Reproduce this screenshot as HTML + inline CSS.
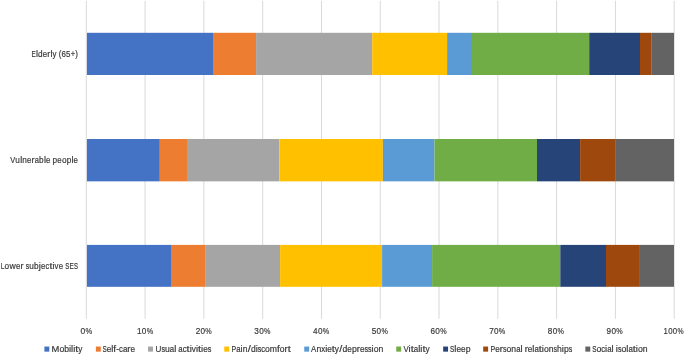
<!DOCTYPE html><html><head><meta charset="utf-8"><style>html,body{margin:0;padding:0;background:#fff;width:685px;height:355px;overflow:hidden}svg{display:block;will-change:transform}text{font-family:"Liberation Sans",sans-serif;font-size:9.5px;fill:#383838;stroke:#383838;stroke-width:0.2px}</style></head><body>
<svg width="685" height="355" viewBox="0 0 685 355">
<rect width="685" height="355" fill="#fff"/>
<rect x="85.80" y="0.80" width="1" height="318.00" fill="#D9D9D9"/>
<rect x="144.59" y="0.80" width="1" height="318.00" fill="#D9D9D9"/>
<rect x="203.38" y="0.80" width="1" height="318.00" fill="#D9D9D9"/>
<rect x="262.17" y="0.80" width="1" height="318.00" fill="#D9D9D9"/>
<rect x="320.96" y="0.80" width="1" height="318.00" fill="#D9D9D9"/>
<rect x="379.75" y="0.80" width="1" height="318.00" fill="#D9D9D9"/>
<rect x="438.54" y="0.80" width="1" height="318.00" fill="#D9D9D9"/>
<rect x="497.33" y="0.80" width="1" height="318.00" fill="#D9D9D9"/>
<rect x="556.12" y="0.80" width="1" height="318.00" fill="#D9D9D9"/>
<rect x="614.91" y="0.80" width="1" height="318.00" fill="#D9D9D9"/>
<rect x="673.70" y="0.80" width="1" height="318.00" fill="#D9D9D9"/>
<rect x="86.95" y="32.80" width="126.05" height="42.20" fill="#4472C4"/>
<rect x="213.00" y="32.80" width="43.10" height="42.20" fill="#ED7D31"/>
<rect x="256.10" y="32.80" width="116.10" height="42.20" fill="#A5A5A5"/>
<rect x="372.20" y="32.80" width="74.90" height="42.20" fill="#FFC000"/>
<rect x="447.10" y="32.80" width="23.90" height="42.20" fill="#5B9BD5"/>
<rect x="471.00" y="32.80" width="118.20" height="42.20" fill="#70AD47"/>
<rect x="589.20" y="32.80" width="50.80" height="42.20" fill="#264478"/>
<rect x="640.00" y="32.80" width="11.20" height="42.20" fill="#9E480E"/>
<rect x="651.20" y="32.80" width="22.80" height="42.20" fill="#636363"/>
<rect x="86.95" y="139.00" width="72.85" height="42.35" fill="#4472C4"/>
<rect x="159.80" y="139.00" width="27.20" height="42.35" fill="#ED7D31"/>
<rect x="187.00" y="139.00" width="92.30" height="42.35" fill="#A5A5A5"/>
<rect x="279.30" y="139.00" width="103.60" height="42.35" fill="#FFC000"/>
<rect x="382.90" y="139.00" width="51.60" height="42.35" fill="#5B9BD5"/>
<rect x="434.50" y="139.00" width="102.50" height="42.35" fill="#70AD47"/>
<rect x="537.00" y="139.00" width="43.10" height="42.35" fill="#264478"/>
<rect x="580.10" y="139.00" width="35.70" height="42.35" fill="#9E480E"/>
<rect x="615.80" y="139.00" width="58.20" height="42.35" fill="#636363"/>
<rect x="86.95" y="244.90" width="84.05" height="41.90" fill="#4472C4"/>
<rect x="171.00" y="244.90" width="34.10" height="41.90" fill="#ED7D31"/>
<rect x="205.10" y="244.90" width="75.00" height="41.90" fill="#A5A5A5"/>
<rect x="280.10" y="244.90" width="102.00" height="41.90" fill="#FFC000"/>
<rect x="382.10" y="244.90" width="50.00" height="41.90" fill="#5B9BD5"/>
<rect x="432.10" y="244.90" width="128.20" height="41.90" fill="#70AD47"/>
<rect x="560.30" y="244.90" width="45.70" height="41.90" fill="#264478"/>
<rect x="606.00" y="244.90" width="33.90" height="41.90" fill="#9E480E"/>
<rect x="639.90" y="244.90" width="34.10" height="41.90" fill="#636363"/>
<text transform="translate(31.45 56.80) scale(0.672 1)" font-size="9.90">E</text><text transform="translate(35.89 56.80) scale(0.948 1)" font-size="9.90">l</text><text transform="translate(37.97 56.80) scale(0.867 1)" font-size="9.90">d</text><text transform="translate(42.74 56.80) scale(0.821 1)" font-size="9.90">e</text><text transform="translate(47.26 56.80) scale(0.961 1)" font-size="9.90">r</text><text transform="translate(50.43 56.80) scale(0.948 1)" font-size="9.90">l</text><text transform="translate(52.51 56.80) scale(0.831 1)" font-size="9.90">y</text><text transform="translate(58.68 56.80) scale(0.835 1)" font-size="9.90">(</text><text transform="translate(61.43 56.80) scale(0.836 1)" font-size="9.90">6</text><text transform="translate(66.04 56.80) scale(0.836 1)" font-size="9.90">5</text><text transform="translate(70.64 56.80) scale(0.796 1)" font-size="9.90">+</text><text transform="translate(75.25 56.80) scale(0.835 1)" font-size="9.90">)</text>
<text transform="translate(10.20 163.00) scale(0.783 1)" font-size="9.90">V</text><text transform="translate(15.37 163.00) scale(0.869 1)" font-size="9.90">u</text><text transform="translate(20.15 163.00) scale(0.950 1)" font-size="9.90">l</text><text transform="translate(22.24 163.00) scale(0.869 1)" font-size="9.90">n</text><text transform="translate(27.03 163.00) scale(0.823 1)" font-size="9.90">e</text><text transform="translate(31.56 163.00) scale(0.963 1)" font-size="9.90">r</text><text transform="translate(34.74 163.00) scale(0.792 1)" font-size="9.90">a</text><text transform="translate(39.10 163.00) scale(0.869 1)" font-size="9.90">b</text><text transform="translate(43.89 163.00) scale(0.950 1)" font-size="9.90">l</text><text transform="translate(45.98 163.00) scale(0.823 1)" font-size="9.90">e</text><text transform="translate(52.57 163.00) scale(0.869 1)" font-size="9.90">p</text><text transform="translate(57.36 163.00) scale(0.823 1)" font-size="9.90">e</text><text transform="translate(61.89 163.00) scale(0.872 1)" font-size="9.90">o</text><text transform="translate(66.69 163.00) scale(0.869 1)" font-size="9.90">p</text><text transform="translate(71.48 163.00) scale(0.950 1)" font-size="9.90">l</text><text transform="translate(73.57 163.00) scale(0.823 1)" font-size="9.90">e</text>
<text transform="translate(0.75 268.80) scale(0.696 1)" font-size="9.90">L</text><text transform="translate(4.58 268.80) scale(0.873 1)" font-size="9.90">o</text><text transform="translate(9.39 268.80) scale(0.912 1)" font-size="9.90">w</text><text transform="translate(15.91 268.80) scale(0.824 1)" font-size="9.90">e</text><text transform="translate(20.45 268.80) scale(0.964 1)" font-size="9.90">r</text><text transform="translate(25.69 268.80) scale(0.720 1)" font-size="9.90">s</text><text transform="translate(29.25 268.80) scale(0.870 1)" font-size="9.90">u</text><text transform="translate(34.04 268.80) scale(0.870 1)" font-size="9.90">b</text><text transform="translate(38.83 268.80) scale(0.992 1)" font-size="9.90">j</text><text transform="translate(41.01 268.80) scale(0.824 1)" font-size="9.90">e</text><text transform="translate(45.55 268.80) scale(0.779 1)" font-size="9.90">c</text><text transform="translate(49.41 268.80) scale(1.110 1)" font-size="9.90">t</text><text transform="translate(52.46 268.80) scale(0.951 1)" font-size="9.90">i</text><text transform="translate(54.55 268.80) scale(0.832 1)" font-size="9.90">v</text><text transform="translate(58.67 268.80) scale(0.824 1)" font-size="9.90">e</text><text transform="translate(65.27 268.80) scale(0.634 1)" font-size="9.90">S</text><text transform="translate(69.46 268.80) scale(0.674 1)" font-size="9.90">E</text><text transform="translate(73.91 268.80) scale(0.634 1)" font-size="9.90">S</text>
<text transform="translate(80.45 333.90) scale(0.894 1)" font-size="10.10">0</text><text transform="translate(85.47 333.90) scale(0.788 1)" font-size="10.10">%</text>
<text transform="translate(136.95 333.90) scale(0.861 1)" font-size="10.10">1</text><text transform="translate(141.79 333.90) scale(0.861 1)" font-size="10.10">0</text><text transform="translate(146.63 333.90) scale(0.760 1)" font-size="10.10">%</text>
<text transform="translate(195.65 333.90) scale(0.861 1)" font-size="10.10">2</text><text transform="translate(200.49 333.90) scale(0.861 1)" font-size="10.10">0</text><text transform="translate(205.33 333.90) scale(0.760 1)" font-size="10.10">%</text>
<text transform="translate(254.35 333.90) scale(0.861 1)" font-size="10.10">3</text><text transform="translate(259.19 333.90) scale(0.861 1)" font-size="10.10">0</text><text transform="translate(264.03 333.90) scale(0.760 1)" font-size="10.10">%</text>
<text transform="translate(313.05 333.90) scale(0.861 1)" font-size="10.10">4</text><text transform="translate(317.89 333.90) scale(0.861 1)" font-size="10.10">0</text><text transform="translate(322.73 333.90) scale(0.760 1)" font-size="10.10">%</text>
<text transform="translate(371.75 333.90) scale(0.861 1)" font-size="10.10">5</text><text transform="translate(376.59 333.90) scale(0.861 1)" font-size="10.10">0</text><text transform="translate(381.43 333.90) scale(0.760 1)" font-size="10.10">%</text>
<text transform="translate(430.45 333.90) scale(0.861 1)" font-size="10.10">6</text><text transform="translate(435.29 333.90) scale(0.861 1)" font-size="10.10">0</text><text transform="translate(440.13 333.90) scale(0.760 1)" font-size="10.10">%</text>
<text transform="translate(489.15 333.90) scale(0.861 1)" font-size="10.10">7</text><text transform="translate(493.99 333.90) scale(0.861 1)" font-size="10.10">0</text><text transform="translate(498.83 333.90) scale(0.760 1)" font-size="10.10">%</text>
<text transform="translate(547.85 333.90) scale(0.861 1)" font-size="10.10">8</text><text transform="translate(552.69 333.90) scale(0.861 1)" font-size="10.10">0</text><text transform="translate(557.53 333.90) scale(0.760 1)" font-size="10.10">%</text>
<text transform="translate(606.55 333.90) scale(0.861 1)" font-size="10.10">9</text><text transform="translate(611.39 333.90) scale(0.861 1)" font-size="10.10">0</text><text transform="translate(616.23 333.90) scale(0.760 1)" font-size="10.10">%</text>
<text transform="translate(663.60 333.90) scale(0.823 1)" font-size="10.10">1</text><text transform="translate(668.23 333.90) scale(0.823 1)" font-size="10.10">0</text><text transform="translate(672.85 333.90) scale(0.823 1)" font-size="10.10">0</text><text transform="translate(677.48 333.90) scale(0.726 1)" font-size="10.10">%</text>
<rect x="44.40" y="346.55" width="4.90" height="5.10" fill="#4472C4"/>
<text transform="translate(51.60 351.80) scale(0.987 1)">M</text><text transform="translate(59.41 351.80) scale(0.911 1)">o</text><text transform="translate(64.22 351.80) scale(0.908 1)">b</text><text transform="translate(69.02 351.80) scale(0.993 1)">i</text><text transform="translate(71.12 351.80) scale(0.993 1)">l</text><text transform="translate(73.21 351.80) scale(0.993 1)">i</text><text transform="translate(75.32 351.80) scale(1.150 1)">t</text><text transform="translate(78.37 351.80) scale(0.870 1)">y</text>
<rect x="95.90" y="346.55" width="4.90" height="5.10" fill="#ED7D31"/>
<text transform="translate(102.40 351.80) scale(0.669 1)">S</text><text transform="translate(106.64 351.80) scale(0.868 1)">e</text><text transform="translate(111.23 351.80) scale(1.003 1)">l</text><text transform="translate(113.34 351.80) scale(1.066 1)">f</text><text transform="translate(116.16 351.80) scale(0.892 1)">-</text><text transform="translate(118.98 351.80) scale(0.821 1)">c</text><text transform="translate(122.88 351.80) scale(0.836 1)">a</text><text transform="translate(127.30 351.80) scale(1.016 1)">r</text><text transform="translate(130.51 351.80) scale(0.868 1)">e</text>
<rect x="148.05" y="346.55" width="4.90" height="5.10" fill="#A5A5A5"/>
<text transform="translate(155.50 351.80) scale(0.856 1)">U</text><text transform="translate(161.38 351.80) scale(0.754 1)">s</text><text transform="translate(164.96 351.80) scale(0.911 1)">u</text><text transform="translate(169.77 351.80) scale(0.830 1)">a</text><text transform="translate(174.16 351.80) scale(0.996 1)">l</text><text transform="translate(178.33 351.80) scale(0.830 1)">a</text><text transform="translate(182.71 351.80) scale(0.815 1)">c</text><text transform="translate(186.60 351.80) scale(1.150 1)">t</text><text transform="translate(189.65 351.80) scale(0.996 1)">i</text><text transform="translate(191.76 351.80) scale(0.871 1)">v</text><text transform="translate(195.89 351.80) scale(0.996 1)">i</text><text transform="translate(198.01 351.80) scale(1.150 1)">t</text><text transform="translate(201.06 351.80) scale(0.996 1)">i</text><text transform="translate(203.16 351.80) scale(0.862 1)">e</text><text transform="translate(207.72 351.80) scale(0.754 1)">s</text>
<rect x="224.25" y="346.55" width="4.90" height="5.10" fill="#FFC000"/>
<text transform="translate(231.60 351.80) scale(0.736 1)">P</text><text transform="translate(236.26 351.80) scale(0.818 1)">a</text><text transform="translate(240.59 351.80) scale(0.981 1)">i</text><text transform="translate(242.66 351.80) scale(0.898 1)">n</text><text transform="translate(247.63 351.80) scale(1.150 1)">/</text><text transform="translate(250.89 351.80) scale(0.898 1)">d</text><text transform="translate(255.63 351.80) scale(0.981 1)">i</text><text transform="translate(257.70 351.80) scale(0.743 1)">s</text><text transform="translate(261.23 351.80) scale(0.803 1)">c</text><text transform="translate(265.05 351.80) scale(0.901 1)">o</text><text transform="translate(269.81 351.80) scale(0.911 1)">m</text><text transform="translate(277.02 351.80) scale(1.044 1)">f</text><text transform="translate(279.77 351.80) scale(0.901 1)">o</text><text transform="translate(284.53 351.80) scale(0.995 1)">r</text><text transform="translate(287.68 351.80) scale(1.145 1)">t</text>
<rect x="304.25" y="346.55" width="4.90" height="5.10" fill="#5B9BD5"/>
<text transform="translate(311.10 351.80) scale(0.835 1)">A</text><text transform="translate(316.39 351.80) scale(0.909 1)">n</text><text transform="translate(321.19 351.80) scale(0.834 1)">x</text><text transform="translate(325.15 351.80) scale(0.994 1)">i</text><text transform="translate(327.25 351.80) scale(0.861 1)">e</text><text transform="translate(331.81 351.80) scale(1.150 1)">t</text><text transform="translate(334.86 351.80) scale(0.871 1)">y</text><text transform="translate(339.25 351.80) scale(1.150 1)">/</text><text transform="translate(342.53 351.80) scale(0.909 1)">d</text><text transform="translate(347.34 351.80) scale(0.861 1)">e</text><text transform="translate(351.89 351.80) scale(0.909 1)">p</text><text transform="translate(356.69 351.80) scale(1.008 1)">r</text><text transform="translate(359.88 351.80) scale(0.861 1)">e</text><text transform="translate(364.43 351.80) scale(0.753 1)">s</text><text transform="translate(368.00 351.80) scale(0.753 1)">s</text><text transform="translate(371.58 351.80) scale(0.994 1)">i</text><text transform="translate(373.68 351.80) scale(0.913 1)">o</text><text transform="translate(378.50 351.80) scale(0.909 1)">n</text>
<rect x="396.25" y="346.55" width="4.90" height="5.10" fill="#70AD47"/>
<text transform="translate(403.40 351.80) scale(0.824 1)">V</text><text transform="translate(408.62 351.80) scale(1.001 1)">i</text><text transform="translate(410.76 351.80) scale(1.150 1)">t</text><text transform="translate(413.82 351.80) scale(0.834 1)">a</text><text transform="translate(418.23 351.80) scale(1.001 1)">l</text><text transform="translate(420.34 351.80) scale(1.001 1)">i</text><text transform="translate(422.47 351.80) scale(1.150 1)">t</text><text transform="translate(425.53 351.80) scale(0.877 1)">y</text>
<rect x="443.15" y="346.55" width="4.90" height="5.10" fill="#264478"/>
<text transform="translate(450.10 351.80) scale(0.670 1)">S</text><text transform="translate(454.34 351.80) scale(1.004 1)">l</text><text transform="translate(456.46 351.80) scale(0.869 1)">e</text><text transform="translate(461.06 351.80) scale(0.869 1)">e</text><text transform="translate(465.65 351.80) scale(0.918 1)">p</text>
<rect x="483.20" y="346.55" width="4.90" height="5.10" fill="#9E480E"/>
<text transform="translate(490.60 351.80) scale(0.742 1)">P</text><text transform="translate(495.30 351.80) scale(0.857 1)">e</text><text transform="translate(499.83 351.80) scale(1.003 1)">r</text><text transform="translate(503.00 351.80) scale(0.749 1)">s</text><text transform="translate(506.56 351.80) scale(0.909 1)">o</text><text transform="translate(511.37 351.80) scale(0.905 1)">n</text><text transform="translate(516.15 351.80) scale(0.825 1)">a</text><text transform="translate(520.51 351.80) scale(0.990 1)">l</text><text transform="translate(524.65 351.80) scale(1.003 1)">r</text><text transform="translate(527.83 351.80) scale(0.857 1)">e</text><text transform="translate(532.36 351.80) scale(0.990 1)">l</text><text transform="translate(534.45 351.80) scale(0.825 1)">a</text><text transform="translate(538.81 351.80) scale(1.150 1)">t</text><text transform="translate(541.85 351.80) scale(0.990 1)">i</text><text transform="translate(543.94 351.80) scale(0.909 1)">o</text><text transform="translate(548.74 351.80) scale(0.905 1)">n</text><text transform="translate(553.53 351.80) scale(0.749 1)">s</text><text transform="translate(557.09 351.80) scale(0.905 1)">h</text><text transform="translate(561.87 351.80) scale(0.990 1)">i</text><text transform="translate(563.96 351.80) scale(0.905 1)">p</text><text transform="translate(568.74 351.80) scale(0.749 1)">s</text>
<rect x="585.35" y="346.55" width="4.90" height="5.10" fill="#636363"/>
<text transform="translate(592.20 351.80) scale(0.664 1)">S</text><text transform="translate(596.41 351.80) scale(0.914 1)">o</text><text transform="translate(601.24 351.80) scale(0.816 1)">c</text><text transform="translate(605.11 351.80) scale(0.996 1)">i</text><text transform="translate(607.22 351.80) scale(0.831 1)">a</text><text transform="translate(611.60 351.80) scale(0.996 1)">l</text><text transform="translate(615.78 351.80) scale(0.996 1)">i</text><text transform="translate(617.88 351.80) scale(0.754 1)">s</text><text transform="translate(621.46 351.80) scale(0.914 1)">o</text><text transform="translate(626.29 351.80) scale(0.996 1)">l</text><text transform="translate(628.40 351.80) scale(0.831 1)">a</text><text transform="translate(632.80 351.80) scale(1.150 1)">t</text><text transform="translate(635.85 351.80) scale(0.996 1)">i</text><text transform="translate(637.96 351.80) scale(0.914 1)">o</text><text transform="translate(642.79 351.80) scale(0.911 1)">n</text>
</svg></body></html>
